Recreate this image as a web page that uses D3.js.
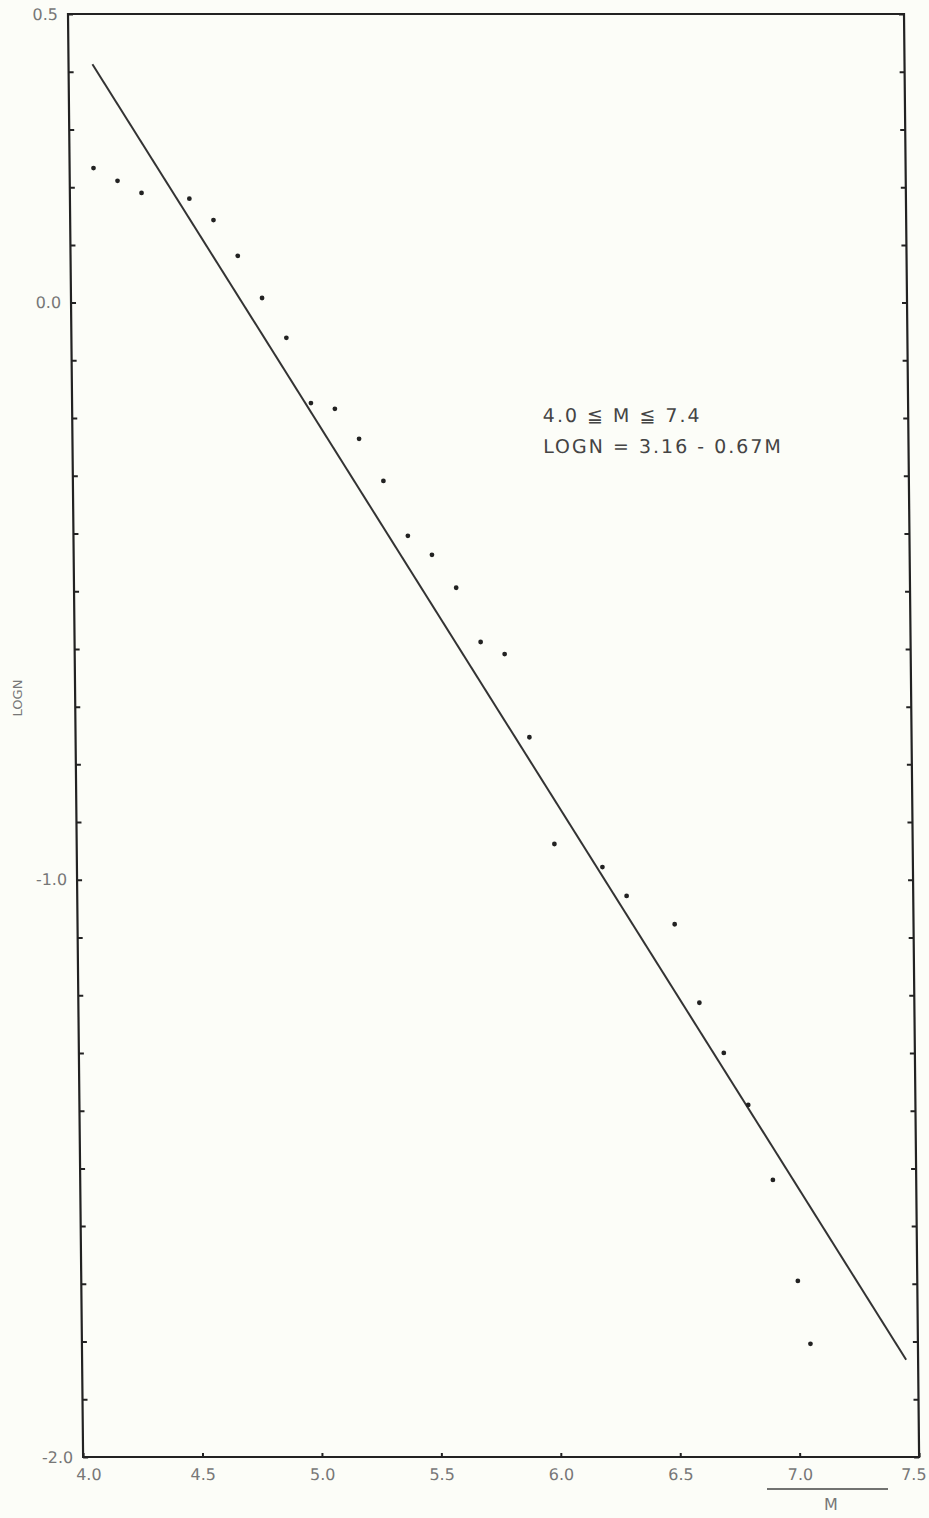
<!DOCTYPE html>
<html lang="en">
<head>
    <meta charset="UTF-8">
    <title>LOGN vs M</title>
    <script src="https://d3js.org/d3.v7.min.js"></script>
    <style>
        body { margin: 0; background: #fcfdf8; }
        svg { display: block; }
        .lbl { font-family: "DejaVu Sans", sans-serif; font-size: 16px; fill: #777; }
        .note { font-family: "DejaVu Sans", sans-serif; font-size: 19px; fill: #444; letter-spacing: 2px; }
    </style>
</head>
<body>
    <svg width="929" height="1518"></svg>
    <script>
        // magnitude M and log of cumulative number
        const magnitudes = [4.1, 4.2, 4.3, 4.5, 4.6, 4.7, 4.8, 4.9, 5.0, 5.1, 5.2, 5.3, 5.4, 5.5,
                            5.6, 5.7, 5.8, 5.9, 6.0, 6.2, 6.3, 6.5, 6.6, 6.7, 6.8, 6.9, 7.0, 7.05];
        const logNValues = [0.233, 0.211, 0.190, 0.180, 0.143, 0.081, 0.008, -0.061, -0.174, -0.184,
                            -0.236, -0.309, -0.404, -0.437, -0.494, -0.588, -0.609, -0.753, -0.938,
                            -0.978, -1.028, -1.077, -1.213, -1.300, -1.390, -1.520, -1.695, -1.804];
        const xTickLabels = ["4.0", "4.5", "5.0", "5.5", "6.0", "6.5", "7.0", "7.5"];
        const yTickLabels = ["0.5", "0.0", "-1.0", "-2.0"];
        // fitted relation LOGN = 3.16 - 0.67M, drawn between these magnitudes
        const fitA = 3.16, fitB = -0.67;
        const fitRange = [4.1, 7.45];

        const svg = d3.select("svg"),
              width = 836,
              height = 1443;

        // the scanned frame leans a little, so skew the whole plot group
        const g = svg.append("g")
            .attr("transform", "translate(68,14) skewX(0.6)");

        const x = d3.scaleLinear().domain([4.0, 7.5]).range([0, width]);
        const y = d3.scaleLinear().domain([-2.0, 0.5]).range([height, 0]);

        const minorY = d3.range(-20, 6).map(d => d / 10);

        // inward ticks every 0.1 on both sides
        g.append("g")
            .call(d3.axisLeft(y).tickValues(minorY).tickSize(-5).tickFormat(""))
            .call(a => a.select(".domain").remove())
            .selectAll("line").attr("stroke", "#222").attr("stroke-width", 2);

        g.append("g")
            .attr("transform", `translate(${width},0)`)
            .call(d3.axisRight(y).tickValues(minorY).tickSize(-5).tickFormat(""))
            .call(a => a.select(".domain").remove())
            .selectAll("line").attr("stroke", "#222").attr("stroke-width", 2);

        g.append("g")
            .attr("transform", `translate(0,${height})`)
            .call(d3.axisBottom(x).tickValues(xTickLabels.map(Number)).tickSize(-4).tickFormat(""))
            .call(a => a.select(".domain").remove())
            .selectAll("line").attr("stroke", "#222").attr("stroke-width", 2);

        // tick labels
        const yl = g.append("g")
            .call(d3.axisLeft(y).tickValues(yTickLabels.map(Number)).tickSize(0).tickPadding(10)
                .tickFormat((d, i) => yTickLabels[i]));
        yl.select(".domain").remove();
        yl.selectAll("text").attr("class", "lbl").attr("font-family", null).attr("font-size", null);

        const xl = g.append("g")
            .attr("transform", `translate(0,${height})`)
            .call(d3.axisBottom(x).tickValues(xTickLabels.map(Number)).tickSize(0).tickPadding(12)
                .tickFormat((d, i) => xTickLabels[i]));
        xl.select(".domain").remove();
        xl.selectAll("text").attr("class", "lbl").attr("font-family", null).attr("font-size", null)
            .attr("dx", (d, i) => i === 0 ? 5 : (i === xTickLabels.length - 1 ? -6 : 0));

        // frame
        g.append("rect")
            .attr("x", x(4.0)).attr("y", y(0.5))
            .attr("width", x(7.5) - x(4.0)).attr("height", y(-2.0) - y(0.5))
            .attr("fill", "none").attr("stroke", "#222").attr("stroke-width", 2.2);

        // fitted line
        g.append("line")
            .attr("x1", x(fitRange[0])).attr("y1", y(fitA + fitB * fitRange[0]))
            .attr("x2", x(fitRange[1])).attr("y2", y(fitA + fitB * fitRange[1]))
            .attr("stroke", "#333").attr("stroke-width", 2);

        // observed points
        g.selectAll(".pt")
            .data(magnitudes.map((m, i) => ({ m, v: logNValues[i] })))
            .enter().append("circle")
            .attr("class", "pt")
            .attr("cx", d => x(d.m))
            .attr("cy", d => y(d.v))
            .attr("r", 2.4)
            .attr("fill", "#222");

        // annotation
        g.append("text").attr("class", "note")
            .attr("x", x(5.97)).attr("y", y(-0.207))
            .text("4.0 ≦ M ≦ 7.4");
        g.append("text").attr("class", "note")
            .attr("x", x(5.97)).attr("y", y(-0.261))
            .text("LOGN = 3.16 - 0.67M");

        // axis titles
        svg.append("text").attr("class", "lbl")
            .attr("transform", "translate(22,698) rotate(-90)")
            .attr("text-anchor", "middle")
            .style("font-size", "13px")
            .text("LOGN");

        svg.append("line")
            .attr("x1", 767).attr("x2", 888).attr("y1", 1489).attr("y2", 1489)
            .attr("stroke", "#444").attr("stroke-width", 1.5);
        svg.append("text").attr("class", "lbl")
            .attr("x", 831).attr("y", 1510)
            .attr("text-anchor", "middle")
            .text("M");
    </script>
</body>
</html>
